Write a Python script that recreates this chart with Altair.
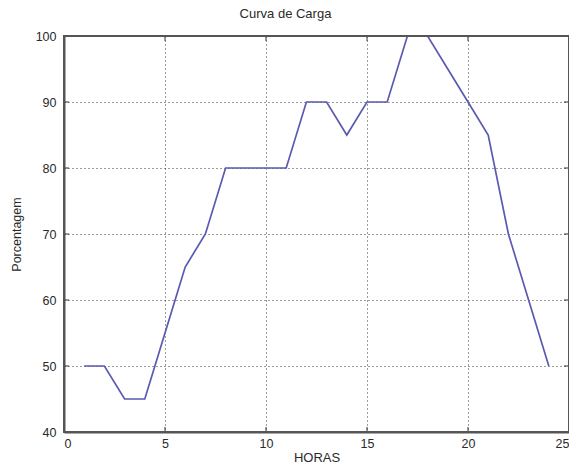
import altair as alt
import pandas as pd

hours = list(range(1, 25))
percent = [50, 50, 45, 45, 55, 65, 70, 80, 80, 80, 80, 90,
           90, 85, 90, 90, 100, 100, 95, 90, 85, 70, 60, 50]
x_ticks = [0, 5, 10, 15, 20, 25]
y_ticks = [40, 50, 60, 70, 80, 90, 100]

df = pd.DataFrame({"hora": hours, "pct": percent})
xt = pd.DataFrame({"t": x_ticks[1:-1]})
yt = pd.DataFrame({"t": y_ticks[1:-1]})

W, H = 505, 396
FONT = "Liberation Sans"
TXT = "#2a2a2a"
FRAME = "#555555"

xscale = alt.Scale(domain=[0, 25], nice=False, zero=False)
yscale = alt.Scale(domain=[40, 100], nice=False, zero=False)

line = alt.Chart(df).mark_line(color="#5a5ab0", strokeWidth=1.7).encode(
    x=alt.X("hora:Q", scale=xscale, title="HORAS",
            axis=alt.Axis(values=x_ticks, labelPadding=5, titleFontSize=13, titlePadding=2)),
    y=alt.Y("pct:Q", scale=yscale, title="Porcentagem",
            axis=alt.Axis(values=y_ticks, labelPadding=8, titleFontSize=12.5, titlePadding=12)),
)

frame = alt.Chart(df.head(1)).mark_rect(filled=False, stroke=FRAME, strokeWidth=2).encode(
    x=alt.value(0), x2=alt.value(W), y=alt.value(0), y2=alt.value(H))

tick_style = dict(color="#333333", strokeWidth=1)
xb = alt.Chart(xt).mark_rule(**tick_style).encode(
    x=alt.X("t:Q", scale=xscale), y=alt.value(H), y2=alt.value(H - 5))
xtp = alt.Chart(xt).mark_rule(**tick_style).encode(
    x=alt.X("t:Q", scale=xscale), y=alt.value(0), y2=alt.value(5))
yl = alt.Chart(yt).mark_rule(**tick_style).encode(
    y=alt.Y("t:Q", scale=yscale), x=alt.value(0), x2=alt.value(5))
yr = alt.Chart(yt).mark_rule(**tick_style).encode(
    y=alt.Y("t:Q", scale=yscale), x=alt.value(W), x2=alt.value(W - 5))

chart = alt.layer(line, xb, xtp, yl, yr, frame).properties(
    width=W, height=H,
    title=alt.TitleParams("Curva de Carga", fontSize=13, fontWeight="normal",
                          font=FONT, color=TXT, offset=9, dx=-31),
    autosize=alt.AutoSizeParams(type="none"),
    padding={"left": 56, "top": 28, "right": 0, "bottom": 33},
).configure_axis(
    grid=True, gridDash=[1, 3], gridColor="#222222", gridOpacity=0.9,
    domain=True, domainColor=FRAME, domainWidth=2, ticks=False,
    labelFontSize=12.5, labelColor=TXT, labelFont=FONT,
    titleFont=FONT, titleFontWeight="normal", titleColor=TXT,
).configure_view(stroke=FRAME, strokeWidth=2)

chart.save("out.html", embed_options={"renderer": "svg", "actions": False})
